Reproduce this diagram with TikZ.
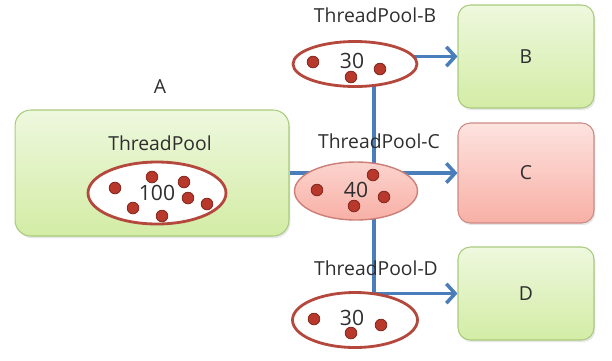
\documentclass[tikz,border=0pt]{standalone}
\usepackage{fontspec}
\setmainfont{Open Sans}
\usetikzlibrary{arrows.meta, positioning, shapes.geometric, shadows}
\pgfdeclarelayer{back}
\pgfsetlayers{back,main}

\definecolor{grnT}{HTML}{EEF8DE}
\definecolor{grnB}{HTML}{D3ECA5}
\definecolor{grnE}{HTML}{A9CB7D}
\definecolor{redT}{HTML}{FDE3DF}
\definecolor{redB}{HTML}{F8B0A6}
\definecolor{redE}{HTML}{CD8A84}
\definecolor{poolE}{HTML}{B5483D}
\definecolor{dotF}{HTML}{B8392C}
\definecolor{dotE}{HTML}{862A20}
\definecolor{wire}{HTML}{4A7EBB}
\definecolor{txt}{HTML}{2E2E2E}

\tikzset{
  box/.style={shape=rectangle, rounded corners=7pt, line width=0.6pt, minimum width=2.72cm,
    drop shadow={opacity=0.2, shadow xshift=0.8pt, shadow yshift=-1.2pt}},
  gbox/.style={box, draw=grnE, top color=grnT, bottom color=grnB},
  rbox/.style={box, draw=redE, top color=redT, bottom color=redB},
  pool/.style={shape=ellipse, draw=poolE, line width=1.6pt, fill=white, inner sep=0pt},
  dot/.style={fill=dotF, draw=dotE, line width=0.5pt},
  wireline/.style={draw=wire, line width=2pt, -{Straight Barb[length=5pt, width=11pt]}},
  lbl/.style={text=txt, font=\fontsize{11}{13}\selectfont, inner sep=0pt},
  num/.style={lbl, font=\fontsize{12}{14}\selectfont},
}

\begin{document}
\begin{tikzpicture}[x=0.02cm, y=-0.02cm]
		\useasboundingbox (0,0) rectangle (612,360);
		% Boxes:
		\node[gbox, rounded corners=9pt, minimum width=5.48cm, minimum height=2.52cm](NA) at (152, 173){};
		\node[gbox, minimum height=2.06cm](NB) at (526, 56.5){};
		\node[rbox, minimum height=2.0cm](NC) at (526, 173){};
		\node[gbox, minimum height=1.86cm](ND) at (526, 293.5){};
		\node[lbl](LA) at (160, 87){A};
		\node[lbl](TA) at (160, 143){ThreadPool};
		\node[lbl] at (NB){B};
		\node[lbl] at (NC){C};
		\node[lbl] at (ND){D};
		% Pools:
		\node[pool, minimum width=2.76cm, minimum height=1.24cm](PA) at (157, 193){};
		\node[pool, minimum width=2.48cm, minimum height=0.9cm](PB) at (355, 64){};
		\node[pool, draw=poolE!70, line width=0.8pt, top color=redT!70!redB, bottom color=redB,
		      minimum width=2.46cm, minimum height=1.16cm](PC) at (356, 191){};
		\node[pool, minimum width=2.5cm, minimum height=1.1cm](PD) at (355, 320){};
		\node[lbl](LB) at (375, 15){ThreadPool-B};
		\node[lbl](LC) at (379, 141){ThreadPool-C};
		\node[lbl](LD) at (376, 268){ThreadPool-D};
		\coordinate (trunk) at (374, 64);
		% Wires behind the pools:
		\begin{pgfonlayer}{back}
		\draw[wireline] (NA.east) -- (NC.west);
		\draw[wireline] (trunk |- NB.west) -- (NB.west);
		\draw[wireline] (trunk) |- (ND.west);
		\end{pgfonlayer}
		% Threads in each pool:
		\draw[dot] (115, 188) circle (3.3pt);
		\draw[dot] (152, 177) circle (3.3pt);
		\draw[dot] (184, 182) circle (3.3pt);
		\draw[dot] (188, 198) circle (3.3pt);
		\draw[dot] (207, 204) circle (3.3pt);
		\draw[dot] (133, 208) circle (3.3pt);
		\draw[dot] (162, 216) circle (3.3pt);
		\draw[dot] (313, 62) circle (3.3pt);
		\draw[dot] (380, 69) circle (3.3pt);
		\draw[dot] (351, 77) circle (3.3pt);
		\draw[dot] (317, 190) circle (3.3pt);
		\draw[dot] (373, 175) circle (3.3pt);
		\draw[dot] (384, 197) circle (3.3pt);
		\draw[dot] (354, 206) circle (3.3pt);
		\draw[dot] (314, 319) circle (3.3pt);
		\draw[dot] (381, 325) circle (3.3pt);
		\draw[dot] (351, 333) circle (3.3pt);
		\node[num](NPA) at (157, 193){100};
		\node[num](NPB) at (352, 61){30};
		\node[num](NPC) at (356, 190){40};
		\node[num](NPD) at (352, 318){30};
	\end{tikzpicture}
\end{document}
